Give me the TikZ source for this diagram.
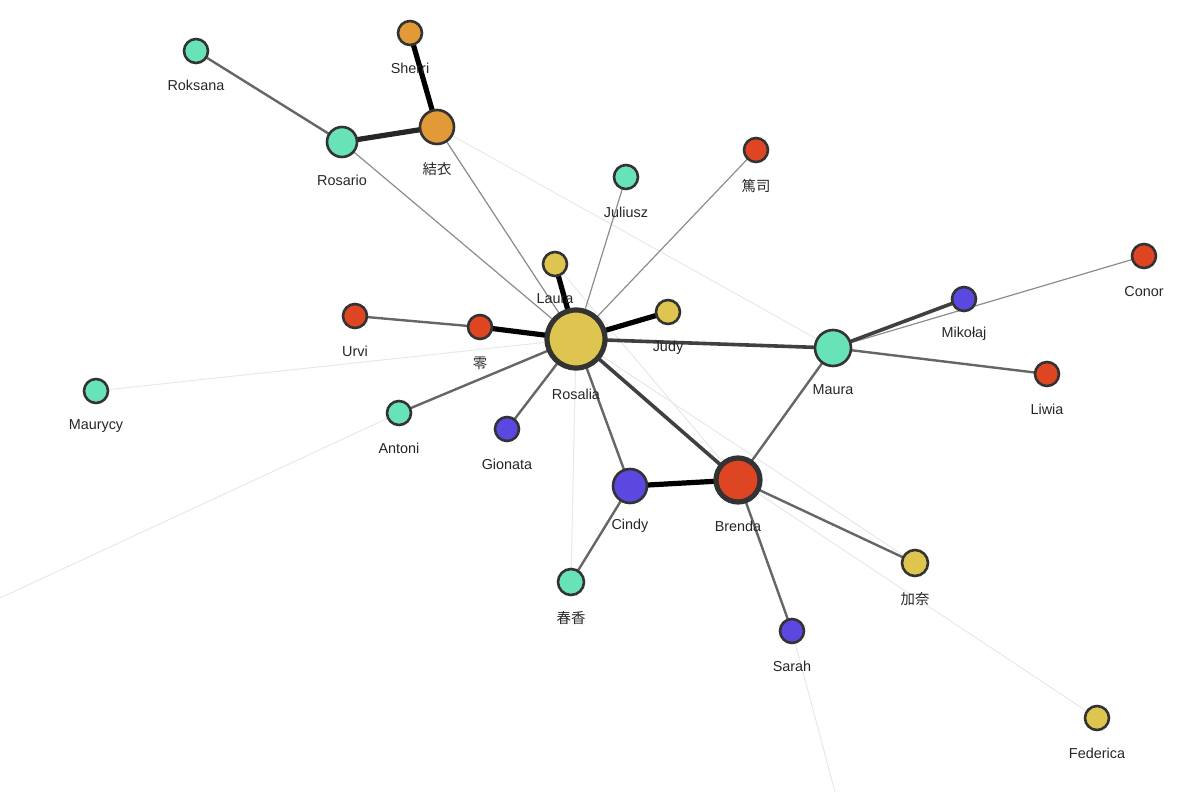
\documentclass[tikz,border=0pt]{standalone}
\usepackage{fontspec}
\setmainfont{Liberation Sans}
\newfontfamily\cjk{Noto Sans CJK JP}
\begin{document}
\begin{tikzpicture}[x=0.5pt,y=-0.5pt,
 nd/.style={circle,draw=black!80,line width=1.3pt,inner sep=0pt},
 lb/.style={font=\fontsize{7.2}{8}\selectfont,inner sep=0pt,text=black!85},
 e1/.style={black!9,line width=0.5pt},
 e2/.style={black!45,line width=0.6pt},
 e3/.style={black!60,line width=1.2pt},
 e4/.style={black!75,line width=1.8pt},
 e5/.style={black,line width=2.6pt}]
\definecolor{Y}{HTML}{DEC550}\definecolor{G}{HTML}{68E3B8}\definecolor{R}{HTML}{DE4623}
\definecolor{B}{HTML}{5B48E0}\definecolor{O}{HTML}{E29A38}
\useasboundingbox (0,0) rectangle (1200,792);
\coordinate (offA) at (0,598);
\coordinate (offB) at (835,792);
\foreach \n/\x/\y in {Roksana/196/51,Sherri/410/33,Yui/437/127,Rosario/342/142,
 Atsushi/756/150,Juliusz/626/177,Laura/555/264,Judy/668/312,Rosalia/576/339,
 Urvi/355/316,Rei/480/327,Conor/1144/256,Mikolaj/964/299,Maura/833/348,
 Liwia/1047/374,Maurycy/96/391,Antoni/399/413,Gionata/507/429,Cindy/630/486,
 Brenda/738/480,Kana/915/563,Haruka/571/582,Sarah/792/631,Federica/1097/718}
 {\coordinate (\n) at (\x,\y);}
\draw[e1] (Yui)--(Maura); \draw[e1] (Maurycy)--(Rosalia); \draw[e1] (Antoni)--(offA);
\draw[e1] (Sarah)--(offB); \draw[e1] (Rosalia)--(Haruka); \draw[e1] (Rosalia)--(Kana);
\draw[e1] (Brenda)--(Federica); \draw[e1] (Laura)--(Brenda); \draw[e1] (Yui)--(Rosalia);
\draw[e2] (Rosario)--(Rosalia); \draw[e2] (Yui)--(Rosalia); \draw[e2] (Juliusz)--(Rosalia);
\draw[e2] (Atsushi)--(Rosalia); \draw[e2] (Maura)--(Conor);
\draw[e3] (Roksana)--(Rosario); \draw[e3] (Urvi)--(Rei); \draw[e3] (Antoni)--(Rosalia);
\draw[e3] (Gionata)--(Rosalia); \draw[e3] (Rosalia)--(Cindy); \draw[e3] (Cindy)--(Haruka);
\draw[e3] (Brenda)--(Maura); \draw[e3] (Brenda)--(Kana); \draw[e3] (Brenda)--(Sarah);
\draw[e3] (Maura)--(Liwia);
\draw[e4] (Rosalia)--(Maura); \draw[e4] (Rosalia)--(Brenda);
\draw[e4] (Maura)--(Mikolaj);
\draw[e5,black!85] (Rosario)--(Yui);
\draw[e5] (Sherri)--(Yui); \draw[e5] (Laura)--(Rosalia); \draw[e5] (Judy)--(Rosalia);
\draw[e5] (Rei)--(Rosalia); \draw[e5] (Cindy)--(Brenda);
\foreach \n/\d/\c in {Roksana/24/G,Sherri/24/O,Yui/34/O,Rosario/30/G,Atsushi/24/R,Juliusz/24/G,Laura/24/Y,Judy/24/Y,
 Rosalia/58/Y,Urvi/24/R,Rei/24/R,Conor/24/R,Mikolaj/24/B,Maura/36/G,Liwia/24/R,Maurycy/24/G,Antoni/24/G,
 Gionata/24/B,Cindy/34/B,Brenda/44/R,Kana/26/Y,Haruka/26/G,Sarah/24/B,Federica/24/Y}
 {\node[nd,fill=\c,minimum size=\d*0.5pt,line width=(\d>40?2.6pt:1.3pt)] (n\n) at (\n) {};}
\foreach \n/\t/\dy in {Roksana/Roksana/34,Sherri/Sherri/35,Rosario/Rosario/38,Juliusz/Juliusz/35,
 Laura/Laura/35,Judy/Judy/36,Rosalia/Rosalia/55,Urvi/Urvi/35,Conor/Conor/36,Mikolaj/Mikołaj/35,Maura/Maura/42,
 Liwia/Liwia/35,Maurycy/Maurycy/35,Antoni/Antoni/35,Gionata/Gionata/35,Cindy/Cindy/40,Brenda/Brenda/46,
 Sarah/Sarah/35,Federica/Federica/35}
 {\node[lb] (l\n) at ([yshift=-\dy*0.5pt]\n) {\t};}
\node[lb,font=\cjk\fontsize{7.2}{8}\selectfont] (lYui) at ([yshift=-21pt]Yui) {結衣};
\node[lb,font=\cjk\fontsize{7.2}{8}\selectfont] (lAtsushi) at ([yshift=-18pt]Atsushi) {篤司};
\node[lb,font=\cjk\fontsize{7.2}{8}\selectfont] (lRei) at ([yshift=-18pt]Rei) {零};
\node[lb,font=\cjk\fontsize{7.2}{8}\selectfont] (lKana) at ([yshift=-18pt]Kana) {加奈};
\node[lb,font=\cjk\fontsize{7.2}{8}\selectfont] (lHaruka) at ([yshift=-18pt]Haruka) {春香};
\end{tikzpicture}
\end{document}
